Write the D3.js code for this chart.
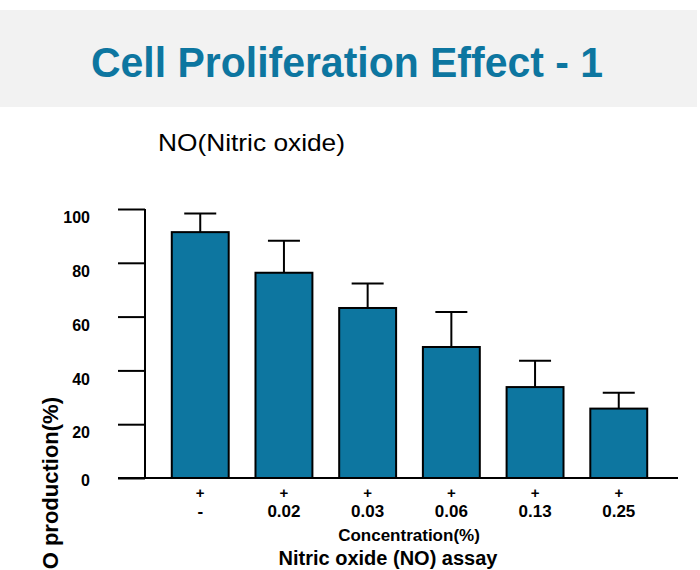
<!DOCTYPE html>
<html>
<head>
<meta charset="utf-8">
<script src="https://cdn.jsdelivr.net/npm/d3@7"></script>
<style>
  body { margin: 0; background: #fff; }
  text { font-family: "Liberation Sans", Arial, Helvetica, sans-serif; }
</style>
</head>
<body>
<div id="chart"></div>
<script>
var categories = ['-', '0.02', '0.03', '0.06', '0.13', '0.25'];
var treatment = ['+', '+', '+', '+', '+', '+'];
var means = [91.4, 76.3, 63.2, 48.7, 33.8, 25.8];
var errors = [6.9, 11.9, 9.1, 13.0, 9.8, 5.9];
var yTicks = [0, 20, 40, 60, 80, 100];

var WIDTH = 700;
var HEIGHT = 570;
var BLUE = '#0d76a0';

var svg = d3.select('#chart')
  .append('svg')
  .attr('width', WIDTH)
  .attr('height', HEIGHT);

// header band
svg.append('rect')
  .attr('x', 0)
  .attr('y', 10)
  .attr('width', 697)
  .attr('height', 97)
  .attr('fill', '#f2f2f2');

svg.append('text')
  .attr('x', 91)
  .attr('y', 77)
  .attr('font-size', '43px')
  .attr('font-weight', 'bold')
  .attr('fill', BLUE)
  .attr('textLength', 512)
  .attr('lengthAdjust', 'spacingAndGlyphs')
  .text('Cell Proliferation Effect - 1');

svg.append('text')
  .attr('x', 158)
  .attr('y', 151)
  .attr('font-size', '24px')
  .attr('fill', '#000')
  .attr('textLength', 187)
  .attr('lengthAdjust', 'spacingAndGlyphs')
  .text('NO(Nitric oxide)');

var x = d3.scaleBand()
  .domain(categories)
  .range([145, 674])
  .padding(0.32);

var y = d3.scaleLinear()
  .domain([0, 100])
  .range([478, 209]);

// y axis
var yAxis = svg.append('g')
  .attr('transform', 'translate(145,0)')
  .call(d3.axisLeft(y).tickValues(yTicks).tickSize(27).tickPadding(28));

yAxis.select('.domain').remove();
yAxis.selectAll('.tick line').attr('stroke', '#000').attr('stroke-width', 2);
yAxis.selectAll('.tick text')
  .attr('font-size', '16px')
  .attr('font-weight', 'bold')
  .attr('font-family', '"Liberation Sans", Arial, sans-serif')
  .attr('fill', '#000')
  // labels sit a little below their ticks, except the zero
  .attr('dy', function(d) { return d === 0 ? '0.45em' : '0.85em'; });

svg.append('line')
  .attr('x1', 145).attr('x2', 145)
  .attr('y1', y(0) + 1).attr('y2', y(100))
  .attr('stroke', '#000')
  .attr('stroke-width', 2);

// bars
svg.selectAll('rect.bar')
  .data(means)
  .enter()
  .append('rect')
  .attr('class', 'bar')
  .attr('x', function(d, i) { return x(categories[i]); })
  .attr('y', function(d) { return y(d); })
  .attr('width', x.bandwidth())
  .attr('height', function(d) { return y(0) - y(d); })
  .attr('fill', BLUE)
  .attr('stroke', '#000')
  .attr('stroke-width', 2);

// error bars (upper only)
var err = svg.selectAll('g.err')
  .data(means)
  .enter()
  .append('g')
  .attr('class', 'err')
  .attr('transform', function(d, i) {
    return 'translate(' + (x(categories[i]) + x.bandwidth() / 2) + ',0)';
  });

err.append('line')
  .attr('x1', 0).attr('x2', 0)
  .attr('y1', function(d) { return y(d); })
  .attr('y2', function(d, i) { return y(d + errors[i]); })
  .attr('stroke', '#000')
  .attr('stroke-width', 2);

err.append('line')
  .attr('x1', -16).attr('x2', 16)
  .attr('y1', function(d, i) { return y(d + errors[i]); })
  .attr('y2', function(d, i) { return y(d + errors[i]); })
  .attr('stroke', '#000')
  .attr('stroke-width', 2);

// x baseline
svg.append('line')
  .attr('x1', 118).attr('x2', 678)
  .attr('y1', y(0)).attr('y2', y(0))
  .attr('stroke', '#000')
  .attr('stroke-width', 2);

// category labels
var labels = svg.selectAll('g.cat')
  .data(categories)
  .enter()
  .append('g')
  .attr('class', 'cat')
  .attr('transform', function(d) {
    return 'translate(' + (x(d) + x.bandwidth() / 2) + ',0)';
  });

labels.append('text')
  .attr('y', 498)
  .attr('text-anchor', 'middle')
  .attr('font-size', '15px')
  .attr('font-weight', 'bold')
  .text(function(d, i) { return treatment[i]; });

labels.append('text')
  .attr('y', 517)
  .attr('text-anchor', 'middle')
  .attr('font-size', '17px')
  .attr('font-weight', 'bold')
  .text(function(d) { return d; });

svg.append('text')
  .attr('x', 409)
  .attr('y', 541)
  .attr('text-anchor', 'middle')
  .attr('font-size', '17px')
  .attr('font-weight', 'bold')
  .text('Concentration(%)');

svg.append('text')
  .attr('x', 388)
  .attr('y', 565)
  .attr('text-anchor', 'middle')
  .attr('font-size', '20px')
  .attr('font-weight', 'bold')
  .text('Nitric oxide (NO) assay');

svg.append('text')
  .attr('transform', 'translate(58,397) rotate(-90)')
  .attr('text-anchor', 'end')
  .attr('font-size', '22px')
  .attr('font-weight', 'bold')
  .text('NO production(%)');
</script>
</body>
</html>
